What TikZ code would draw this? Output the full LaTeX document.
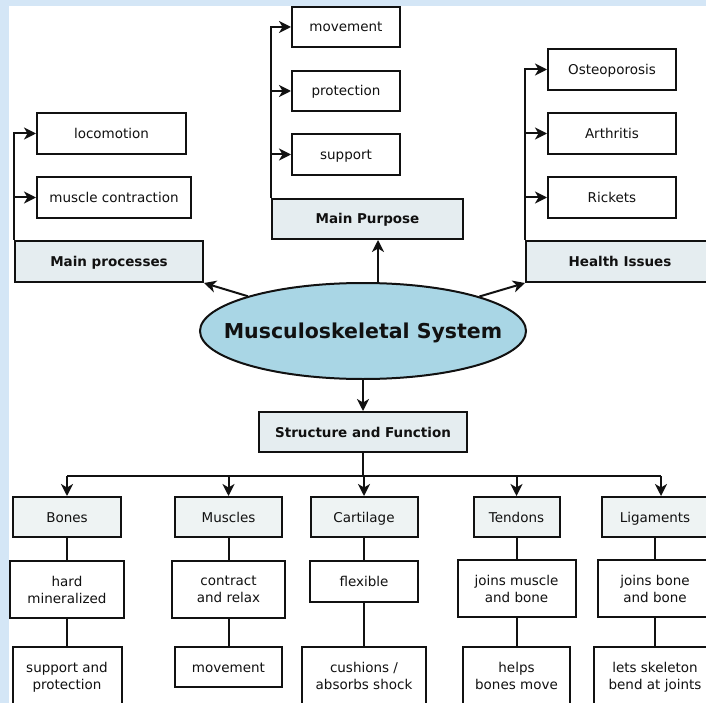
\documentclass[tikz,border=0pt]{standalone}
\usepackage{fontspec}
\setmainfont{DejaVu Sans}
\usetikzlibrary{arrows.meta,shapes.geometric}
\definecolor{bgblue}{HTML}{D4E6F6}
\definecolor{hdrfill}{HTML}{E5EDF0}
\definecolor{catfill}{HTML}{EEF3F3}
\definecolor{ellfill}{HTML}{A9D6E5}
\definecolor{ink}{HTML}{111111}
\tikzset{
  box/.style={draw=ink, line width=2pt, fill=white, inner sep=0pt, align=center,
    font=\fontsize{13.5}{17}\selectfont, text=ink},
  one/.style={text height=10pt, text depth=0pt},
  hdr/.style={box, one, fill=hdrfill, font=\fontsize{13.5}{17}\selectfont\bfseries},
  cat/.style={box, one, fill=catfill},
  conn/.style={draw=ink, line width=2pt},
  arr/.style={conn, -{Stealth[length=12pt,width=12pt,inset=3.5pt]}},
}
\begin{document}
\begin{tikzpicture}[x=1pt,y=-1pt]
\useasboundingbox (0,0) rectangle (706,703);
\clip (0,0) rectangle (706,703);
\fill[bgblue] (0,0) rectangle (706,703);
\fill[white] (9,6) rectangle (706,703);

% Main processes group
\node[box, one, minimum width=149pt, minimum height=41pt] (loco) at (111.5,133.5) {locomotion};
\node[box, one, minimum width=154pt, minimum height=41pt] (mcon) at (114,197.5) {muscle contraction};
\node[hdr, minimum width=188pt, minimum height=41pt] (mproc) at (109,261.5) {Main processes};
\draw[arr] (mproc.north west) |- (loco.west);
\draw[arr] (mproc.north west |- mcon.west) -- (mcon.west);

% Main purpose group
\node[box, one, minimum width=108pt, minimum height=40pt] (pmov) at (346,27) {movement};
\node[box, one, minimum width=108pt, minimum height=40pt] (pprot) at (346,91) {protection};
\node[box, one, minimum width=108pt, minimum height=41pt] (psup) at (346,154.5) {support};
\node[hdr, minimum width=191pt, minimum height=40pt] (mpur) at (367.5,219) {Main Purpose};
\draw[arr] (mpur.north west) |- (pmov.west);
\draw[arr] (mpur.north west |- pprot.west) -- (pprot.west);
\draw[arr] (mpur.north west |- psup.west) -- (psup.west);

% Health issues group
\node[box, one, minimum width=128pt, minimum height=41pt] (ost) at (612,69.5) {Osteoporosis};
\node[box, one, minimum width=128pt, minimum height=41pt] (arth) at (612,133.5) {Arthritis};
\node[box, one, minimum width=128pt, minimum height=41pt] (rick) at (612,197.5) {Rickets};
\node[hdr, minimum width=188pt, minimum height=41pt] (hi) at (620,261.5) {Health Issues};
\draw[arr] (hi.north west) |- (ost.west);
\draw[arr] (hi.north west |- arth.west) -- (arth.west);
\draw[arr] (hi.north west |- rick.west) -- (rick.west);

% Central ellipse
\node[ellipse, draw=ink, line width=2pt, fill=ellfill, minimum width=326pt, minimum height=96pt,
  inner sep=0pt,
  label={[font=\fontsize{20.5}{24}\selectfont\bfseries, text=ink, text height=15pt, text depth=0pt]center:Musculoskeletal System}] (ms) at (363,331) {};
\draw[arr] (ms) -- (mproc.south east);
\draw[arr] (ms) -- (hi.south west);
\draw[arr] ([xshift=10.5pt]mpur.south |- ms.north) -- ([xshift=10.5pt]mpur.south);

% Structure and function
\node[hdr, minimum width=208pt, minimum height=40pt] (sf) at (363,432) {Structure and Function};
\draw[arr] (ms.south) -- (sf.north);

% Categories
\node[cat, minimum width=108pt, minimum height=40pt] (bones) at (67,517) {Bones};
\node[cat, minimum width=107pt, minimum height=40pt] (musc) at (228.5,517) {Muscles};
\node[cat, minimum width=107pt, minimum height=40pt] (cart) at (364,517) {Cartilage};
\node[cat, minimum width=86pt, minimum height=40pt] (tend) at (516.5,517) {Tendons};
\node[cat, minimum width=106pt, minimum height=40pt] (lig) at (655,517) {Ligaments};

\coordinate (bar) at (363,476);
\coordinate (ligin) at ([xshift=6pt]lig.north);
\draw[conn] (sf.south) -- (bar);
\draw[conn] (bar -| bones.north) -- (bar -| ligin);
\draw[arr] (bar -| bones.north) -- (bones.north);
\draw[arr] (bar -| musc.north) -- (musc.north);
\draw[arr] (bar -| cart.north) -- (cart.north);
\draw[arr] (bar -| tend.north) -- (tend.north);
\draw[arr] (bar -| ligin) -- (ligin);

% Row 2
\node[box, minimum width=114pt, minimum height=57pt] (hard) at (67,589.5) {hard\\mineralized};
\node[box, minimum width=113pt, minimum height=57pt] (contr) at (228.5,589.5) {contract\\and relax};
\node[box, one, minimum width=108pt, minimum height=41pt] (flex) at (364,581.5) {flexible};
\node[box, minimum width=118pt, minimum height=57pt] (jmb) at (516.5,588.5) {joins muscle\\and bone};
\node[box, minimum width=114pt, minimum height=57pt] (jbb) at (655,588.5) {joins bone\\and bone};

% Row 3
\node[box, minimum width=109pt, minimum height=57pt] (supprot) at (67,675.5) {support and\\\smash{protection}};
\node[box, one, minimum width=107pt, minimum height=40pt] (mmov) at (228.5,667) {movement};
\node[box, minimum width=124pt, minimum height=57pt] (cush) at (364,675.5) {cushions /\\absorbs shock};
\node[box, minimum width=107pt, minimum height=57pt] (helps) at (516.5,675.5) {helps\\bones move};
\node[box, minimum width=122pt, minimum height=57pt] (lets) at (655,675.5) {lets skeleton\\\smash{bend at joints}};

\draw[conn] (bones.south) -- (hard.north);
\draw[conn] (hard.south) -- (supprot.north);
\draw[conn] (musc.south) -- (contr.north);
\draw[conn] (contr.south) -- (mmov.north);
\draw[conn] (cart.south) -- (flex.north);
\draw[conn] (flex.south) -- (cush.north);
\draw[conn] (tend.south) -- (jmb.north);
\draw[conn] (jmb.south) -- (helps.north);
\draw[conn] (lig.south) -- (jbb.north);
\draw[conn] (jbb.south) -- (lets.north);
\end{tikzpicture}
\end{document}
